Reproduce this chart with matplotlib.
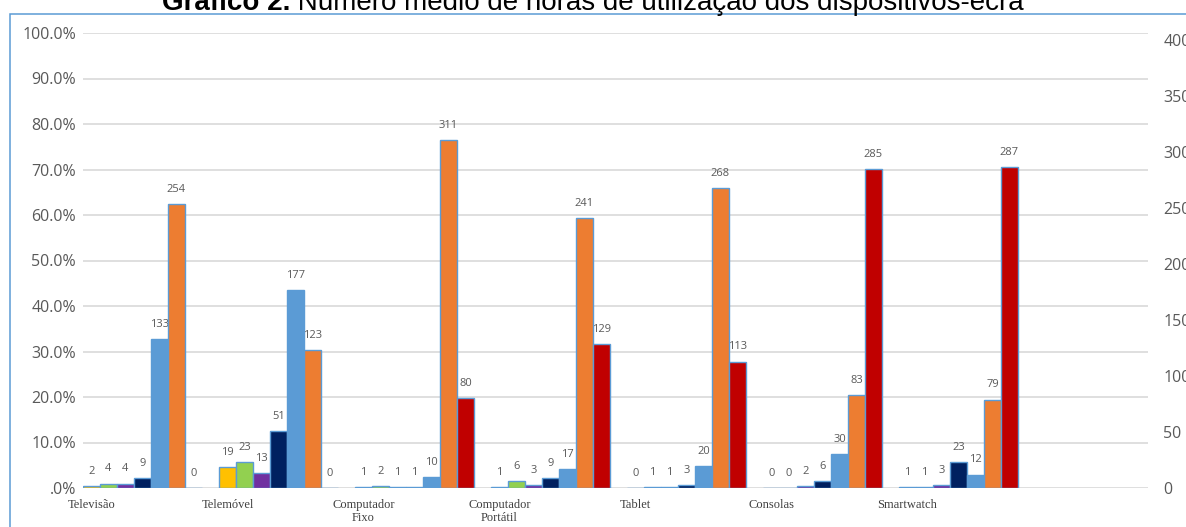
import matplotlib
matplotlib.use("Agg")
import matplotlib.pyplot as plt
from matplotlib.patches import Rectangle

# average hours per device, one list per series (7 devices each)
devices = ["Televisão", "Telemóvel", "Computador\nFixo", "Computador\nPortátil",
           "Tablet", "Consolas", "Smartwatch"]
yellow = [2, 19, 1, 1, 0, 0, 1]
green = [4, 23, 2, 6, 1, 0, 1]
purple = [4, 13, 1, 3, 1, 2, 3]
navy = [9, 51, 1, 9, 3, 6, 23]
lightblue = [133, 177, 10, 17, 20, 30, 12]
orange = [254, 123, 311, 241, 268, 83, 79]
darkred = [0, 0, 80, 129, 113, 285, 287]

pct_ticks = [0, 0.1, 0.2, 0.3, 0.4, 0.5, 0.6, 0.7, 0.8, 0.9, 1.0]
pct_labels = [".0%", "10.0%", "20.0%", "30.0%", "40.0%", "50.0%",
              "60.0%", "70.0%", "80.0%", "90.0%", "100.0%"]
hour_ticks = [0, 50, 100, 150, 200, 250, 300, 350, 400]

series = [yellow, green, purple, navy, lightblue, orange, darkred]
colors = ["#FFC000", "#92D050", "#7030A0", "#002060", "#5B9BD5", "#ED7D31", "#C00000"]

W, H = 1186, 527
fig = plt.figure(figsize=(W / 100, H / 100), dpi=100)
ax = fig.add_axes([83 / W, 1 - 488 / H, (1148 - 83) / W, (488 - 33) / H])
ax2 = ax.twinx()

gray = "#595959"
axis_font = dict(family="Open Sans", size=11.5, color=gray)

# primary axis: percentage gridlines
ax.set_ylim(0, 1)
ax.set_yticks(pct_ticks)
ax.set_yticklabels(pct_labels, **axis_font)
ax.yaxis.grid(True, color="#D9D9D9", lw=1.2)
ax.set_axisbelow(True)
ax.tick_params(axis="y", length=0, pad=5)
for s in ax.spines.values():
    s.set_visible(False)

# secondary axis: hours, carries the bars
ax2.set_ylim(0, 406.5)
ax2.set_yticks(hour_ticks)
ax2.set_yticklabels([str(t) for t in hour_ticks], **axis_font)
ax2.tick_params(axis="y", length=0, pad=11)
for s in ax2.spines.values():
    s.set_visible(False)

group = len(series) + 1
for j, (vals, c) in enumerate(zip(series, colors)):
    xs = [group * i + j for i in range(len(vals))]
    ax2.bar(xs, vals, width=1.0, color=c, edgecolor="#5B9BD5", linewidth=1.0, zorder=3)
    for x, v in zip(xs, vals):
        ax2.annotate(str(v), (x, v), xytext=(0, 10.5), textcoords="offset points",
                     ha="center", va="center", fontfamily="Open Sans", fontsize=8,
                     color=gray)

ax.set_xlim(-0.5, -0.5 + (1148 - 83) / 17)
ax.set_xticks([group * i for i in range(len(devices))])
ax.set_xticklabels(devices, fontfamily="Liberation Serif", fontsize=9, color="#404040",
                   linespacing=1.15)
ax.tick_params(axis="x", length=0, pad=8)

# outer chart border
fig.add_artist(Rectangle((10 / W, -0.1), 2, 1 - 13.5 / H + 0.1, transform=fig.transFigure,
                         fill=False, edgecolor="#5B9BD5", lw=1.1, clip_on=False))

# title: bold prefix followed by regular text
ty = 1 - 10 / H
t1 = fig.text(0, ty, "Gráfico 2.", fontfamily="Liberation Sans", fontsize=20,
              fontweight="bold", va="baseline", ha="left")
t2 = fig.text(0, ty, " Número médio de horas de utilização dos dispositivos-ecrã",
              fontfamily="Liberation Sans", fontsize=20, va="baseline", ha="left")
fig.canvas.draw()
r = fig.canvas.get_renderer()
w1 = t1.get_window_extent(r).width
w2 = t2.get_window_extent(r).width
x0 = (W - (w1 + w2)) / 2
t1.set_x(x0 / W)
t2.set_x((x0 + w1) / W)

fig.savefig("out.png", dpi=100)
